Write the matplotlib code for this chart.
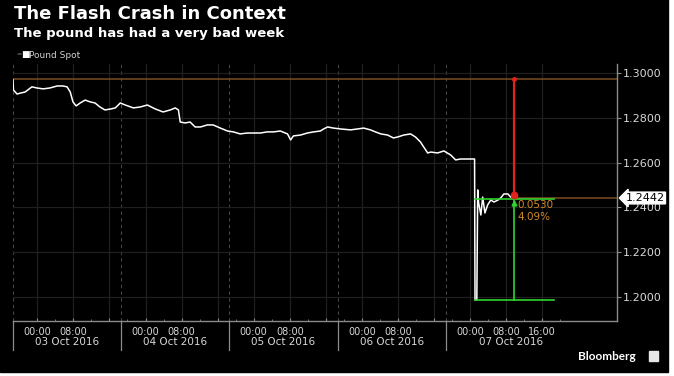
import matplotlib.pyplot as plt
from matplotlib.patches import Rectangle
from matplotlib.transforms import blended_transform_factory

# ==========================================
# Data: GBP spot, x in hours from the start of the 03 Oct trading day
# ==========================================
hours = [0.0, 0.1, 0.9, 1.8, 2.7, 3.6, 4.2, 5.3, 6.7, 8.2, 9.8, 11.1, 12.0, 12.7,
         13.3, 14.0, 14.9, 16.0, 17.1, 18.2, 19.3, 20.4, 21.6, 22.7, 23.8, 24.9,
         26.7, 28.2, 29.8, 31.6, 33.3, 34.9, 36.0, 36.7, 37.1, 38.2, 39.3, 40.4,
         41.6, 43.1, 44.4, 46.0, 47.6, 48.9, 50.4, 52.0, 53.3, 54.9, 56.4, 57.8,
         59.3, 60.9, 61.6, 62.2, 63.8, 65.3, 66.7, 68.2, 68.9, 69.8, 71.1, 72.7,
         74.9, 76.4, 77.8, 79.3, 80.4, 81.6, 83.1, 84.4, 85.3, 86.7, 88.2, 89.3,
         90.4, 91.1, 92.0, 92.7, 94.2, 95.6, 97.1, 98.2, 99.3, 100.9, 102.0, 102.4,
         102.5, 102.9, 103.1, 103.3, 103.8, 104.2, 104.7, 105.3, 106.0, 106.7,
         107.6, 108.2, 108.9, 109.8, 110.4, 111.1]
price = [1.2969, 1.2924, 1.2906, 1.2911, 1.2915, 1.2929, 1.2938, 1.2933, 1.2929,
         1.2933, 1.2942, 1.2942, 1.2938, 1.2915, 1.2871, 1.2853, 1.2866, 1.2879,
         1.2871, 1.2866, 1.2848, 1.2835, 1.2839, 1.2844, 1.2866, 1.2857, 1.2844,
         1.2848, 1.2857, 1.2839, 1.2826, 1.2835, 1.2844, 1.2835, 1.2781, 1.2777,
         1.2781, 1.2759, 1.2759, 1.2768, 1.2768, 1.2754, 1.2741, 1.2737, 1.2728,
         1.2732, 1.2732, 1.2732, 1.2737, 1.2737, 1.2741, 1.2728, 1.2701, 1.2719,
         1.2723, 1.2732, 1.2737, 1.2741, 1.2750, 1.2759, 1.2754, 1.2750, 1.2746,
         1.2750, 1.2754, 1.2746, 1.2737, 1.2728, 1.2723, 1.2710, 1.2714, 1.2723,
         1.2728, 1.2714, 1.2692, 1.2670, 1.2643, 1.2647, 1.2643, 1.2652, 1.2634,
         1.2612, 1.2616, 1.2616, 1.2616, 1.2616, 1.1987, 1.1987, 1.2478, 1.2420,
         1.2366, 1.2446, 1.2375, 1.2411, 1.2433, 1.2424, 1.2433, 1.2442, 1.2460,
         1.2460, 1.2446, 1.2455]

day_starts = [0, 24, 48, 72, 96]
day_ends = [24, 48, 72, 96, 125]
day_labels = ["03 Oct 2016", "04 Oct 2016", "05 Oct 2016", "06 Oct 2016", "07 Oct 2016"]
time_labels = ["00:00", "08:00", "16:00"]
midnight_offset = 5.4   # where 00:00 sits inside each trading day

y_ticks = [1.20, 1.22, 1.24, 1.26, 1.28, 1.30]

# measurement annotation (Bloomberg style)
ref_high = 1.2973
last_price = 1.2442
crash_low = 1.1987
meas_top = 1.2438
t_crash = 102.4
t_last = 111.1
t_meas_end = 120.0
move_abs = "0.0530"
move_pct = "4.09%"

# ==========================================
# Figure
# ==========================================
W, H = 674, 376
fig = plt.figure(figsize=(W / 100, H / 100), dpi=100, facecolor="white")
fig.patches.append(Rectangle((0, 4 / H), 668 / W, 1, transform=fig.transFigure,
                             color="black", zorder=-10))

ax = fig.add_axes([13 / W, 1 - 321 / H, 604 / W, 257 / H])
ax.set_facecolor("black")
ax.set_xlim(0, 134)
ax.set_ylim(1.1893, 1.304)

grid_c = "#1f1f1f"
axis_c = "#8a8a8a"
orange_dim = "#7a4c22"
orange_txt = "#d08a26"
green = "#2fd42f"
red = "#e3221b"

# time ticks: 00:00 / 08:00 / 16:00 for every day
tick_pos, tick_lab = [], []
for i, d in enumerate(day_starts):
    for j, lab in enumerate(time_labels):
        tick_pos.append(d + midnight_offset + 8 * j)
        if j < 2 or i == len(day_starts) - 1:
            tick_lab.append(lab)
        else:
            tick_lab.append("")
ax.set_xticks(tick_pos, tick_lab)
ax.set_xticks([d + midnight_offset + 4 * k for d in day_starts for k in range(6)], minor=True)
for p in tick_pos:
    ax.axvline(p, color=grid_c, lw=0.9, zorder=0)
for d in day_starts:
    ax.axvline(d, color="#474747", lw=0.8, ls=(0, (3, 3)), zorder=0)

ax.set_yticks(y_ticks, [f"{v:.4f}" for v in y_ticks])
for v in y_ticks:
    ax.axhline(v, color=grid_c, lw=0.9, zorder=0)

ax.yaxis.tick_right()
ax.tick_params(axis="y", length=3, color=axis_c, labelcolor="#d8d8d8", labelsize=8, pad=1.5)
ax.tick_params(axis="x", which="major", length=2, direction="in", color=axis_c,
               labelcolor="#d8d8d8", labelsize=7, pad=4)
ax.tick_params(axis="x", which="minor", length=1.5, direction="in", color=axis_c)

for s in ["top", "left"]:
    ax.spines[s].set_visible(False)
for s in ["bottom", "right"]:
    ax.spines[s].set_color(axis_c)
    ax.spines[s].set_linewidth(1.0)

# day separators under the axis and date labels
trans = blended_transform_factory(ax.transData, ax.transAxes)
for d in day_starts:
    ax.plot([d, d], [0, -0.113], transform=trans, color=axis_c, lw=0.9, clip_on=False)
for d0, d1, lab in zip(day_starts, day_ends, day_labels):
    ax.text((d0 + d1) / 2, -0.083, lab, transform=trans, ha="center", va="center",
            color="#d8d8d8", fontsize=7.5)

# reference line and last price line
ax.axhline(ref_high, color=orange_dim, lw=1.1, zorder=1)
ax.plot([t_last, 134], [last_price, last_price], color=orange_dim, lw=1.1, zorder=1)

# price line
ax.plot(hours, price, color="white", lw=1.1, zorder=3)

# measurement tool
ax.plot([t_crash, t_meas_end], [meas_top, meas_top], color=green, lw=1.2, zorder=4)
ax.plot([t_crash, t_meas_end], [crash_low, crash_low], color=green, lw=1.2, zorder=4)
ax.plot([t_last, t_last], [meas_top, crash_low], color=green, lw=1.2, zorder=4)
ax.plot([t_last], [meas_top - 0.0018], marker="^", ms=3.5, color=green, zorder=5)
ax.plot([t_last, t_last], [ref_high, price[-1]], color=red, lw=1.6, zorder=5)
ax.plot([t_last], [ref_high], marker="o", ms=2.5, color=red, zorder=5)
ax.plot([t_last], [price[-1]], marker="o", ms=4.5, color=red, zorder=6)
ax.text(t_last + 0.9, meas_top - 0.0028, move_abs, color=orange_txt, fontsize=7.5,
        ha="left", va="center", zorder=6)
ax.text(t_last + 0.9, meas_top - 0.0083, move_pct, color=orange_txt, fontsize=7.5,
        ha="left", va="center", zorder=6)

# last price tag on the right axis
ax.text(1.014, last_price, f"{last_price:.4f}",
        transform=blended_transform_factory(ax.transAxes, ax.transData),
        ha="left", va="center", color="black", fontsize=8, zorder=10, clip_on=False,
        bbox=dict(boxstyle="larrow,pad=0.08", fc="white", ec="white"))

# titles and legend
fig.text(14 / W, 1 - 14 / H, "The Flash Crash in Context", color="white",
         fontsize=13, fontweight="bold", va="center", ha="left")
fig.text(14 / W, 1 - 33 / H, "The pound has had a very bad week", color="white",
         fontsize=9.5, fontweight="bold", va="center", ha="left")
fig.text(16 / W, 1 - 55 / H, "=", color="#9a9a9a", fontsize=4.5, va="center")
fig.text(21 / W, 1 - 55 / H, "\u25a0", color="white", fontsize=6.5, va="center")
fig.text(29 / W, 1 - 55 / H, "Pound Spot", color="#cfcfcf", fontsize=6.5, va="center")

# Bloomberg mark
fig.text(578 / W, 1 - 356 / H, "Bloomberg", color="white", fontsize=8.5,
         fontweight="bold", family="Lato", va="center", ha="left")
fig.patches.append(Rectangle((649 / W, 1 - 361 / H), 9 / W, 10 / H,
                             transform=fig.transFigure, color="#e6e6e6"))

fig.savefig("out.png", dpi=100, facecolor=fig.get_facecolor())
